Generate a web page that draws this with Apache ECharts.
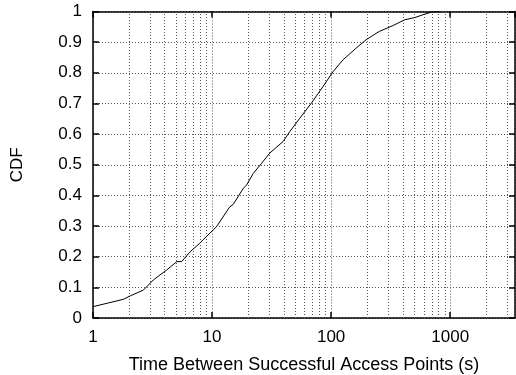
<!DOCTYPE html>
<html>
<head>
<meta charset="utf-8">
<script src="https://cdn.jsdelivr.net/npm/echarts@6/dist/echarts.min.js"></script>
<style>
  html, body { margin: 0; padding: 0; background: #fff; }
  #chart { width: 516px; height: 375px; }
</style>
</head>
<body>
<div id="chart"></div>
<script>
// Inter-arrival time between successful access points (seconds) and its CDF
const times = [1, 1.8, 2.05, 2.65, 3.21, 4.17, 5.06, 5.56, 6.53, 7.9, 8.4, 10.2, 10.9, 14.1, 15.0,
  18.3, 19.5, 22.2, 26.1, 30.5, 39.5, 44.9, 54.6, 68.2, 85.4, 103.8, 125.6, 161.5, 196.9,
  253.6, 330, 415, 502, 608, 697, 815];
const cdf = [0.037, 0.061, 0.072, 0.091, 0.124, 0.157, 0.184, 0.184, 0.216, 0.244, 0.255, 0.287,
  0.298, 0.363, 0.37, 0.423, 0.434, 0.472, 0.505, 0.538, 0.576, 0.608, 0.652, 0.701, 0.755,
  0.804, 0.842, 0.880, 0.908, 0.935, 0.954, 0.973, 0.980, 0.991, 0.998, 1.0];

// Axis ranges and tick values
const xMin = 1, xMax = 3500;
const yMin = 0, yMax = 1, yStep = 0.1;
const minorGridTimes = [2, 3, 4, 5, 6, 7, 8, 9, 20, 30, 40, 50, 60, 70, 80, 90,
  200, 300, 400, 500, 600, 700, 800, 900, 2000, 3000];

const FONT = 'Liberation Sans, Arial, Helvetica, sans-serif';
const gridLine = { color: '#555', type: [1, 2], width: 1 };
const frame = { show: true, onZero: false, lineStyle: { color: '#000', width: 1.5 } };
const innerTick = { show: true, inside: true, length: 6, lineStyle: { color: '#000', width: 1.5 } };

const chart = echarts.init(document.getElementById('chart'), null, { renderer: 'canvas' });
chart.setOption({
  animation: false,
  backgroundColor: '#fff',
  grid: { left: 93, right: 1, top: 11.5, bottom: 57, outerBoundsMode: 'none', containLabel: false },
  xAxis: [{
    type: 'log', logBase: 10, min: xMin, max: xMax, interval: 1,
    position: 'bottom',
    name: 'Time Between Successful Access Points (s)',
    nameLocation: 'middle', nameGap: 38,
    nameTextStyle: { fontFamily: FONT, fontSize: 18, color: '#000' },
    axisLine: frame,
    axisTick: innerTick,
    axisLabel: {
      fontFamily: FONT, fontSize: 17, color: '#000', margin: 11, showMaxLabel: false,
      formatter: v => String(v)
    },
    splitLine: { show: true, lineStyle: gridLine }
  }, {
    type: 'log', logBase: 10, min: xMin, max: xMax, interval: 1,
    position: 'top',
    axisLine: frame,
    axisTick: innerTick,
    axisLabel: { show: false },
    splitLine: { show: false }
  }],
  yAxis: [{
    type: 'value', min: yMin, max: yMax, interval: yStep,
    position: 'left',
    name: 'CDF', nameLocation: 'middle', nameGap: 67,
    nameTextStyle: { fontFamily: FONT, fontSize: 17, color: '#000' },
    axisLine: frame,
    axisTick: innerTick,
    axisLabel: { fontFamily: FONT, fontSize: 17, color: '#000', margin: 11 },
    splitLine: { show: true, lineStyle: gridLine }
  }, {
    type: 'value', min: yMin, max: yMax, interval: yStep,
    position: 'right',
    axisLine: frame,
    axisTick: innerTick,
    axisLabel: { show: false },
    splitLine: { show: false }
  }],
  series: [{
    type: 'line',
    xAxisIndex: 0, yAxisIndex: 0,
    data: times.map((t, i) => [t, cdf[i]]),
    showSymbol: false,
    symbol: 'none',
    lineStyle: { color: '#000', width: 1 },
    z: 5,
    markLine: {
      silent: true,
      symbol: ['none', 'none'],
      label: { show: false },
      lineStyle: gridLine,
      data: minorGridTimes.map(v => ({ xAxis: v }))
    }
  }]
});
</script>
</body>
</html>
